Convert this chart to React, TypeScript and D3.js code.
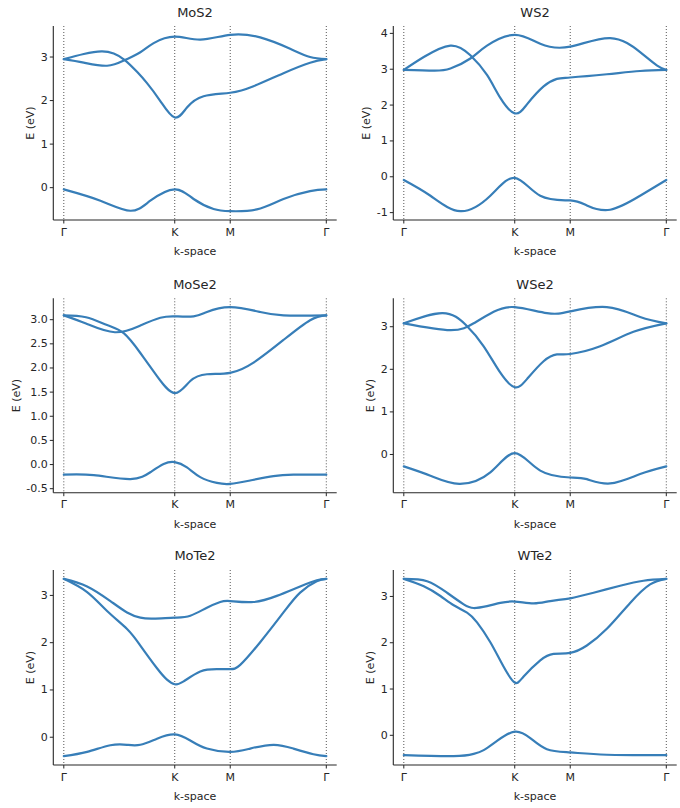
import React from "react";
import * as d3 from "d3";

type Pt = [number, number];

// high-symmetry path: Γ → K → M → Γ (relative lengths 1 : 0.5 : 0.866)
const kPoints = [0, 1, 1.5, 2.366];
const kLabels = ["Γ", "K", "M", "Γ"];

// ---------- MoS2 ----------
const mos2Band1: Pt[] = [[0, 2.95], [0.18, 3.07], [0.34, 3.13], [0.45, 3.08], [0.55, 2.93], [0.66, 2.66], [0.75, 2.4], [0.87, 1.99], [1.0, 1.61], [1.11, 1.84], [1.26, 2.1], [1.5, 2.18], [1.71, 2.33], [1.98, 2.63], [2.22, 2.87], [2.366, 2.95]];
const mos2Band2: Pt[] = [[0, 2.95], [0.18, 2.87], [0.39, 2.8], [0.55, 2.93], [0.69, 3.11], [0.81, 3.32], [1.0, 3.47], [1.23, 3.4], [1.5, 3.51], [1.77, 3.45], [2.04, 3.19], [2.22, 3.0], [2.366, 2.95]];
const mos2Valence: Pt[] = [[0, -0.04], [0.33, -0.3], [0.6, -0.53], [0.78, -0.3], [1.0, -0.04], [1.17, -0.26], [1.35, -0.49], [1.5, -0.54], [1.74, -0.5], [1.98, -0.26], [2.22, -0.08], [2.366, -0.04]];
const mos2Ticks = [0, 1, 2, 3];

// ---------- WS2 ----------
const ws2Band1: Pt[] = [[0, 2.98], [0.18, 3.34], [0.42, 3.66], [0.6, 3.39], [0.75, 2.84], [0.87, 2.2], [1.0, 1.77], [1.11, 2.02], [1.26, 2.52], [1.38, 2.73], [1.5, 2.77], [1.83, 2.86], [2.13, 2.95], [2.366, 2.98]];
const ws2Band2: Pt[] = [[0, 2.98], [0.27, 2.96], [0.42, 3.02], [0.6, 3.3], [0.75, 3.66], [1.0, 3.96], [1.23, 3.71], [1.5, 3.63], [1.86, 3.87], [2.13, 3.48], [2.28, 3.11], [2.366, 2.98]];
const ws2Valence: Pt[] = [[0, -0.09], [0.24, -0.53], [0.51, -0.96], [0.78, -0.53], [1.0, -0.03], [1.23, -0.53], [1.5, -0.66], [1.65, -0.8], [1.86, -0.92], [2.13, -0.53], [2.366, -0.09]];
const ws2Ticks = [-1, 0, 1, 2, 3, 4];

// ---------- MoSe2 ----------
const mose2Band1: Pt[] = [[0, 3.09], [0.2, 3.05], [0.39, 2.89], [0.54, 2.72], [0.69, 2.31], [0.84, 1.83], [1.0, 1.48], [1.14, 1.73], [1.29, 1.87], [1.5, 1.9], [1.71, 2.11], [1.98, 2.58], [2.22, 2.99], [2.366, 3.09]];
const mose2Band2: Pt[] = [[0, 3.09], [0.2, 2.92], [0.46, 2.74], [0.69, 2.88], [0.87, 3.04], [1.0, 3.07], [1.17, 3.07], [1.29, 3.16], [1.5, 3.26], [1.77, 3.16], [1.98, 3.09], [2.366, 3.09]];
const mose2Valence: Pt[] = [[0, -0.21], [0.27, -0.22], [0.6, -0.3], [0.78, -0.16], [0.9, 0.01], [1.0, 0.05], [1.11, -0.06], [1.23, -0.26], [1.38, -0.38], [1.5, -0.4], [1.68, -0.33], [1.89, -0.24], [2.07, -0.21], [2.366, -0.21]];
const mose2Ticks = [-0.5, 0, 0.5, 1, 1.5, 2, 2.5, 3];

// ---------- WSe2 ----------
const wse2Band1: Pt[] = [[0, 3.08], [0.35, 3.32], [0.56, 3.04], [0.72, 2.54], [0.87, 1.92], [1.0, 1.58], [1.11, 1.77], [1.26, 2.19], [1.38, 2.35], [1.5, 2.36], [1.77, 2.54], [2.07, 2.88], [2.366, 3.08]];
const wse2Band2: Pt[] = [[0, 3.08], [0.42, 2.92], [0.63, 3.08], [0.81, 3.35], [1.0, 3.46], [1.29, 3.32], [1.5, 3.36], [1.83, 3.46], [2.13, 3.23], [2.366, 3.08]];
const wse2Valence: Pt[] = [[0, -0.28], [0.24, -0.5], [0.5, -0.69], [0.78, -0.42], [1.0, 0.03], [1.23, -0.38], [1.5, -0.54], [1.65, -0.58], [1.86, -0.68], [2.13, -0.46], [2.366, -0.28]];
const wse2Ticks = [0, 1, 2, 3];

// ---------- MoTe2 ----------
const mote2Band1: Pt[] = [[0, 3.35], [0.21, 3.07], [0.39, 2.67], [0.57, 2.29], [0.69, 1.94], [0.84, 1.46], [0.93, 1.22], [1.0, 1.12], [1.08, 1.18], [1.23, 1.39], [1.38, 1.44], [1.5, 1.44], [1.59, 1.53], [1.77, 2.01], [1.98, 2.64], [2.13, 3.06], [2.28, 3.3], [2.366, 3.35]];
const mote2Band2: Pt[] = [[0, 3.35], [0.21, 3.19], [0.42, 2.88], [0.57, 2.64], [0.69, 2.53], [0.81, 2.51], [1.0, 2.53], [1.14, 2.57], [1.29, 2.74], [1.41, 2.86], [1.5, 2.88], [1.71, 2.86], [1.92, 2.99], [2.13, 3.19], [2.28, 3.32], [2.366, 3.35]];
const mote2Valence: Pt[] = [[0, -0.4], [0.21, -0.31], [0.42, -0.17], [0.57, -0.16], [0.69, -0.16], [0.84, -0.03], [1.0, 0.06], [1.14, -0.07], [1.29, -0.24], [1.5, -0.31], [1.68, -0.24], [1.89, -0.16], [2.07, -0.24], [2.25, -0.36], [2.366, -0.4]];
const mote2Ticks = [0, 1, 2, 3];

// ---------- WTe2 ----------
const wte2Band1: Pt[] = [[0, 3.38], [0.18, 3.22], [0.33, 3.01], [0.45, 2.81], [0.57, 2.65], [0.66, 2.44], [0.78, 2.01], [0.9, 1.48], [1.0, 1.14], [1.08, 1.27], [1.23, 1.62], [1.35, 1.76], [1.5, 1.78], [1.65, 1.94], [1.83, 2.3], [2.04, 2.86], [2.22, 3.26], [2.366, 3.38]];
const wte2Band2: Pt[] = [[0, 3.38], [0.21, 3.33], [0.39, 3.08], [0.54, 2.83], [0.63, 2.75], [0.75, 2.79], [0.87, 2.86], [1.0, 2.89], [1.17, 2.85], [1.32, 2.9], [1.5, 2.96], [1.71, 3.08], [1.95, 3.23], [2.16, 3.34], [2.366, 3.38]];
const wte2Valence: Pt[] = [[0, -0.43], [0.45, -0.45], [0.63, -0.4], [0.72, -0.32], [0.84, -0.12], [1.0, 0.08], [1.14, -0.06], [1.29, -0.3], [1.5, -0.37], [1.83, -0.42], [2.366, -0.43]];
const wte2Ticks = [0, 1, 2, 3];

const titles = ["MoS2", "WS2", "MoSe2", "WSe2", "MoTe2", "WTe2"];
const panelBands: Pt[][][] = [
  [mos2Band1, mos2Band2, mos2Valence],
  [ws2Band1, ws2Band2, ws2Valence],
  [mose2Band1, mose2Band2, mose2Valence],
  [wse2Band1, wse2Band2, wse2Valence],
  [mote2Band1, mote2Band2, mote2Valence],
  [wte2Band1, wte2Band2, wte2Valence],
];
const panelTicks = [mos2Ticks, ws2Ticks, mose2Ticks, wse2Ticks, mote2Ticks, wte2Ticks];
const tickDecimals = [0, 0, 1, 0, 0, 0];

const W = 680;
const H = 808;
const colLeft = [53.3, 393.3];
const colRight = [336.7, 676.7];
const rowTop = [26, 298.3, 570];
const rowBottom = [220, 492.7, 765];
const rowTitle = [12, 284, 555.7];

const LINE = "#377eb8";
const INK = "#262626";
const FONT = "DejaVu Sans, sans-serif";

function textWidth(s: string) {
  let w = 0;
  for (const c of s) {
    if (c === ".") w += 3.5;
    else if (c === "-") w += 4.0;
    else w += 7.0;
  }
  return w;
}

function Panel({ idx }: { idx: number }) {
  const col = idx % 2;
  const row = Math.floor(idx / 2);
  const left = colLeft[col];
  const right = colRight[col];
  const top = rowTop[row];
  const bottom = rowBottom[row];
  const bands = panelBands[idx];
  const ticks = panelTicks[idx];

  const all = bands.flat().map((d) => d[1]);
  const [mn, mx] = d3.extent(all) as [number, number];
  const pad = (mx - mn) * 0.05;
  const y = d3.scaleLinear().domain([mn - pad, mx + pad]).range([bottom, top]);
  const x = d3.scaleLinear().domain([0, kPoints[3]]).range([left + 10.5, right - 10.4]);
  const line = d3
    .line<Pt>()
    .x((d) => x(d[0]))
    .y((d) => y(d[1]))
    .curve(d3.curveNatural);

  const fmt = (v: number) => v.toFixed(tickDecimals[idx]);
  const maxW = Math.max(...ticks.map((t) => textWidth(fmt(t))));
  const ylabelX = left - 5.5 - maxW - 10;

  return (
    <g>
      <text x={(left + right) / 2} y={rowTitle[row]} textAnchor="middle" dominantBaseline="central" fontSize={13} fill={INK} fontFamily={FONT}>
        {titles[idx]}
      </text>
      {kPoints.map((k, i) => (
        <line key={"v" + i} x1={x(k)} x2={x(k)} y1={top} y2={bottom} stroke="#555" strokeWidth={1} strokeDasharray="1,2" />
      ))}
      {bands.map((b, i) => (
        <path key={"b" + i} d={line(b) || ""} fill="none" stroke={LINE} strokeWidth={2.2} strokeLinecap="round" />
      ))}
      <line x1={left} x2={left} y1={top} y2={bottom} stroke={INK} strokeWidth={1.1} />
      <line x1={left} x2={right} y1={bottom} y2={bottom} stroke={INK} strokeWidth={1.1} />
      {ticks.map((t, i) => (
        <g key={"t" + i}>
          <line x1={left - 3.5} x2={left} y1={y(t)} y2={y(t)} stroke={INK} strokeWidth={1} />
          <text x={left - 5.5} y={y(t)} textAnchor="end" dominantBaseline="central" fontSize={11} fill={INK} fontFamily={FONT}>
            {fmt(t)}
          </text>
        </g>
      ))}
      {kPoints.map((k, i) => (
        <g key={"k" + i}>
          <line x1={x(k)} x2={x(k)} y1={bottom} y2={bottom + 3.5} stroke={INK} strokeWidth={1} />
          <text x={x(k)} y={bottom + 15.7} textAnchor="middle" fontSize={11} fill={INK} fontFamily={FONT}>
            {kLabels[i]}
          </text>
        </g>
      ))}
      <text x={(left + right) / 2} y={bottom + 35} textAnchor="middle" fontSize={11} fill={INK} fontFamily={FONT}>
        k-space
      </text>
      <text
        transform={`translate(${ylabelX},${(top + bottom) / 2}) rotate(-90)`}
        textAnchor="middle"
        dominantBaseline="central"
        fontSize={11}
        fill={INK}
        fontFamily={FONT}
      >
        E (eV)
      </text>
    </g>
  );
}

export default function App() {
  return (
    <svg width={W} height={H} style={{ position: "absolute", left: 0, top: 0, background: "#fff" }}>
      {titles.map((_, i) => (
        <Panel key={i} idx={i} />
      ))}
    </svg>
  );
}
